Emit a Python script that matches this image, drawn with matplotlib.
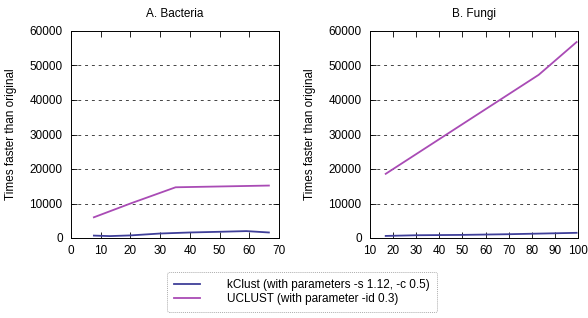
import matplotlib
matplotlib.use("Agg")
import matplotlib.pyplot as plt
from matplotlib.lines import Line2D

plt.rcParams['font.family'] = ['Liberation Sans', 'DejaVu Sans']
plt.rcParams['font.size'] = 8.5

# A. Bacteria
bact_kclust_x = [7.7, 13, 20, 30, 40, 50, 59, 66.6]
bact_kclust_y = [700, 550, 750, 1300, 1600, 1800, 2000, 1600]
bact_uclust_x = [7.7, 20, 35.2, 66.6]
bact_uclust_y = [6000, 10000, 14700, 15200]

# B. Fungi
fungi_kclust_x = [16.8, 30, 50, 70, 85, 99.4]
fungi_kclust_y = [600, 800, 900, 1100, 1300, 1500]
fungi_uclust_x = [16.8, 50, 83, 99.4]
fungi_uclust_y = [18600, 33000, 47300, 56800]

kclust_color = '#3f3f99'
uclust_color = '#a94bb5'
yticks = [0, 10000, 20000, 30000, 40000, 50000, 60000]


def style_axes(ax, xlim, xticks, title, ylabelpad):
    ax.set_xlim(*xlim)
    ax.set_ylim(0, 60000)
    ax.set_xticks(xticks)
    ax.set_yticks(yticks)
    ax.tick_params(direction='in', top=True, right=True, length=4, width=0.6,
                   pad=5, labelsize=8.5)
    ax.tick_params(axis='y', pad=6)
    for g in yticks[1:-1]:
        ax.axhline(g, color='#444444', lw=0.7, ls=(0, (3, 4)), zorder=0)
    for s in ax.spines.values():
        s.set_linewidth(0.7)
    ax.set_title(title, fontsize=8.5, pad=10)
    ax.set_ylabel('Times faster than original', fontsize=8.5, labelpad=ylabelpad)


fig = plt.figure(figsize=(5.88, 3.18), dpi=100)
ax1 = fig.add_axes([71 / 588, 1 - 238 / 318, 208 / 588, 207 / 318])
ax2 = fig.add_axes([370 / 588, 1 - 238 / 318, 208 / 588, 207 / 318])

ax1.plot(bact_kclust_x, bact_kclust_y, color=kclust_color, lw=1.3)
ax1.plot(bact_uclust_x, bact_uclust_y, color=uclust_color, lw=1.3)
style_axes(ax1, (0, 70), range(0, 71, 10), 'A. Bacteria', 9)

ax2.plot(fungi_kclust_x, fungi_kclust_y, color=kclust_color, lw=1.3)
ax2.plot(fungi_uclust_x, fungi_uclust_y, color=uclust_color, lw=1.3)
style_axes(ax2, (10, 100), range(10, 101, 10), 'B. Fungi', 9)

handles = [Line2D([], [], color=kclust_color, lw=1.3),
           Line2D([], [], color=uclust_color, lw=1.3)]
labels = ['kClust (with parameters -s 1.12, -c 0.5)',
          'UCLUST (with parameter -id 0.3)']
leg = fig.legend(handles, labels, loc='center', bbox_to_anchor=(302 / 588, 1 - 292 / 318),
                 frameon=True, fontsize=8.5, handlelength=2.2, handletextpad=2.3,
                 borderpad=0.6, labelspacing=0.2, fancybox=True)
frame = leg.get_frame()
frame.set_edgecolor('#999999')
frame.set_linestyle((0, (1, 1)))
frame.set_linewidth(0.7)

fig.savefig('out.png', dpi=100)
